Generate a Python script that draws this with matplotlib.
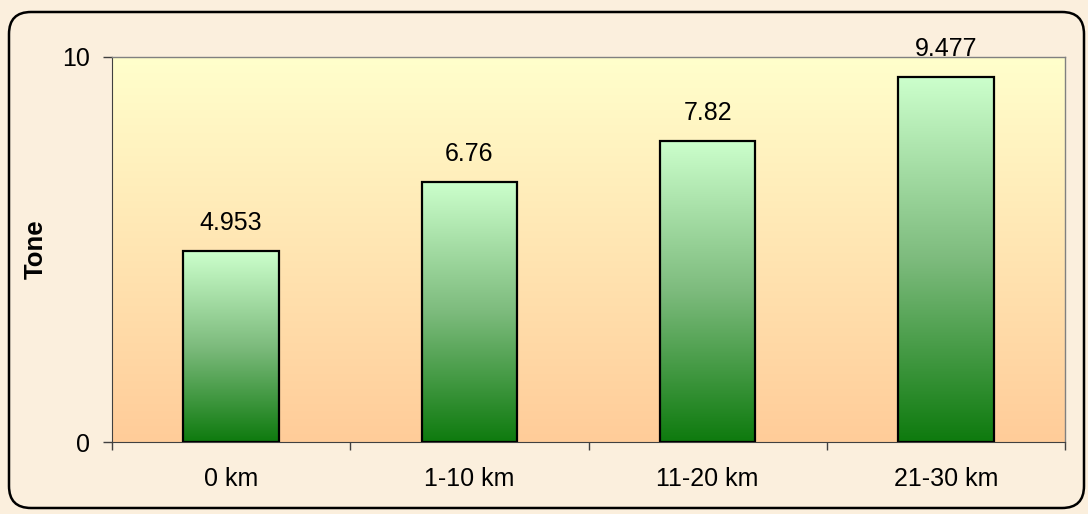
import numpy as np
import matplotlib
matplotlib.use("Agg")
import matplotlib.pyplot as plt
from matplotlib.patches import FancyBboxPatch
from matplotlib.colors import LinearSegmentedColormap

categories = ["0 km", "1-10 km", "11-20 km", "21-30 km"]
values = [4.953, 6.76, 7.82, 9.477]
value_labels = ["4.953", "6.76", "7.82", "9.477"]

plt.rcParams['font.family'] = ['Liberation Sans', 'DejaVu Sans']

W, H = 1088, 514
fig = plt.figure(figsize=(W/100, H/100), dpi=100)
fig.patch.set_facecolor("#FBEFDD")

# background axes in pixel coordinates for the outer rounded border
bgax = fig.add_axes([0, 0, 1, 1], zorder=-5)
bgax.set_xlim(0, W)
bgax.set_ylim(H, 0)
bgax.axis("off")
box = FancyBboxPatch((9, 12), 1084-9, 508-12,
                     boxstyle="round,pad=0,rounding_size=22",
                     facecolor="#FBEFDD", edgecolor="black", linewidth=1.8)
bgax.add_patch(box)

left, right, top, bottom = 112, 1065, 57, 442
ax = fig.add_axes([left/W, 1-bottom/H, (right-left)/W, (bottom-top)/H], zorder=1)
ax.set_xlim(-0.5, len(categories)-0.5)
ax.set_ylim(0, 10)

# plot-area gradient
bg = LinearSegmentedColormap.from_list("bg", ["#FFCC99", "#FFFFCC"])
grad = np.linspace(0, 1, 256).reshape(-1, 1)
ax.imshow(grad, cmap=bg, aspect="auto", origin="lower",
          extent=(-0.5, len(categories)-0.5, 0, 10), zorder=0)

barcm = LinearSegmentedColormap.from_list("bar", ["#0E7A0E", "#7DBB7D", "#CCFFCC"])
x = np.arange(len(categories))
bars = ax.bar(x, values, width=0.40, facecolor="none", edgecolor="black",
              linewidth=1.6, zorder=3)
for b in bars:
    x0, w, h = b.get_x(), b.get_width(), b.get_height()
    im = ax.imshow(grad, cmap=barcm, aspect="auto", origin="lower",
                   extent=(x0, x0+w, 0, h), zorder=2)
    im.set_clip_path(b)

for xi, v, lab in zip(x, values, value_labels):
    ax.annotate(lab, (xi, v), xytext=(0, 15), textcoords="offset points",
                ha="center", va="baseline", fontsize=18, color="black")

for s in ["top", "right"]:
    ax.spines[s].set_color("#808080")
    ax.spines[s].set_linewidth(1.0)
ax.spines["left"].set_color("#404040")
ax.spines["bottom"].set_color("#404040")

ax.set_yticks([0, 10])
ax.set_yticklabels(["0", "10"], fontsize=18)
ax.tick_params(axis="y", length=6.5, width=1, color="#404040", pad=9)
ax.set_xticks(x)
ax.set_xticklabels(categories, fontsize=18)
ax.tick_params(axis="x", which="major", length=0, pad=18)
ax.set_xticks(np.arange(-0.5, len(categories)), minor=True)
ax.tick_params(axis="x", which="minor", length=6, width=1, color="#404040")

ax.set_ylabel("Tone", fontsize=18.5, fontweight="bold")
ax.yaxis.set_label_coords(-64/(right-left), 0.5)

fig.savefig("out.png", dpi=100, facecolor=fig.get_facecolor())
